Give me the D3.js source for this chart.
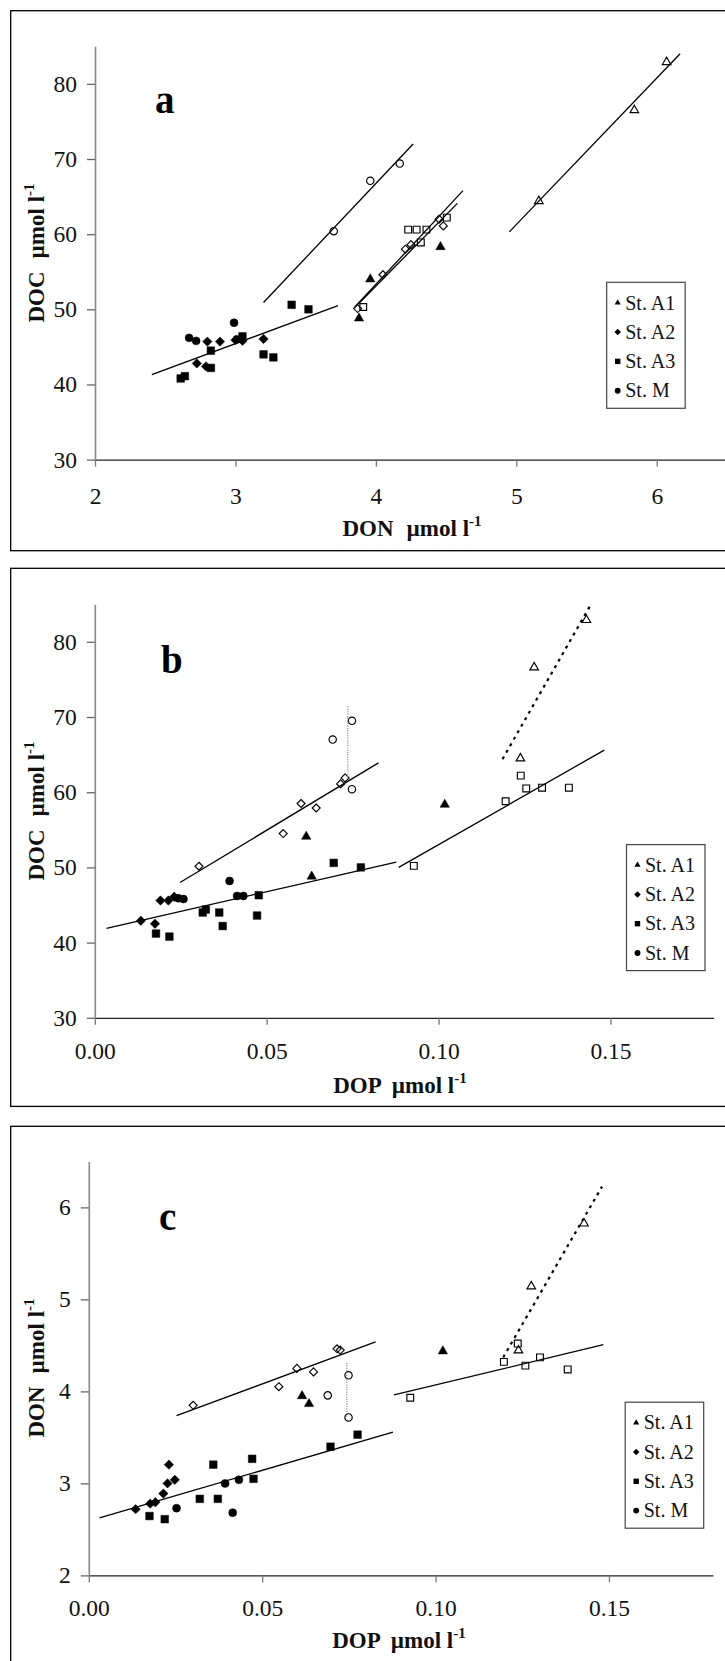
<!DOCTYPE html>
<html>
<head>
<meta charset="utf-8">
<script src="https://cdnjs.cloudflare.com/ajax/libs/d3/7.8.5/d3.min.js"></script>
<style>
  html, body { margin: 0; padding: 0; background: #fff; }
  svg { display: block; }
</style>
</head>
<body>
<svg id="chart" width="725" height="1661"></svg>
<script>
// ---------- legend ----------
const stations = ["St. A1", "St. A2", "St. A3", "St. M"];

// ---------- panel a : DON (x) vs DOC (y) ----------
const aTicksX = [2, 3, 4, 5, 6];
const aTicksY = [30, 40, 50, 60, 70, 80];
const aA1 = [[3.88, 48.8], [3.96, 54.0], [4.46, 58.3]];
const aA2 = [[2.725, 42.8], [2.79, 42.4], [2.80, 45.7], [2.89, 45.7], [3.00, 45.9], [3.05, 45.8], [3.20, 46.05]];
const aA3 = [[2.61, 40.8], [2.64, 41.1], [2.825, 44.5], [2.825, 42.2], [3.05, 46.4], [3.20, 44.0], [3.27, 43.6], [3.40, 50.6], [3.52, 50.0]];
const aM  = [[2.67, 46.2], [2.72, 45.8], [2.99, 48.2], [3.01, 46.0]];
const aA1o = [[5.16, 64.4], [5.84, 76.5], [6.07, 82.9]];
const aA2o = [[3.87, 50.1], [4.05, 54.6], [4.21, 58.0], [4.25, 58.6], [4.45, 62.0], [4.48, 61.1]];
const aA3o = [[3.91, 50.3], [4.23, 60.6], [4.29, 60.6], [4.36, 60.6], [4.32, 58.9], [4.505, 62.2]];
const aMo  = [[3.70, 60.4], [3.96, 67.1], [4.17, 69.4]];
const aFitFilled = [[2.405, 41.3], [3.73, 50.5]];
const aFitMo  = [[3.20, 50.9], [4.265, 72.0]];
const aFitA2o = [[3.85, 50.3], [4.62, 65.8]];
const aFitA3o = [[3.88, 50.8], [4.58, 64.1]];
const aFitA1o = [[4.95, 60.3], [6.166, 84.0]];

// ---------- panel b : DOP (x) vs DOC (y) ----------
const bTicksX = [0.00, 0.05, 0.10, 0.15];
const bTicksY = [30, 40, 50, 60, 70, 80];
const bA1 = [[0.0615, 54.1], [0.0631, 48.8], [0.1018, 58.35]];
const bA2 = [[0.0134, 42.9], [0.0175, 42.5], [0.0191, 45.6], [0.0214, 45.6], [0.0231, 46.1]];
const bA3 = [[0.0178, 41.2], [0.0217, 40.8], [0.0314, 44.0], [0.0323, 44.4], [0.0362, 44.0], [0.0372, 42.2], [0.0472, 43.6], [0.0477, 46.3], [0.0695, 50.6], [0.0774, 50.0]];
const bM  = [[0.0243, 45.9], [0.0258, 45.8], [0.0392, 48.2], [0.0414, 46.2], [0.0432, 46.2]];
const bA1o = [[0.1238, 64.5], [0.1278, 76.6], [0.1430, 82.9]];
const bA2o = [[0.0303, 50.15], [0.0548, 54.5], [0.0600, 58.5], [0.0644, 57.9], [0.0715, 61.1], [0.0728, 61.9]];
const bA3o = [[0.0928, 50.2], [0.1195, 58.8], [0.1239, 62.2], [0.1255, 60.5], [0.1301, 60.6], [0.1379, 60.6]];
const bMo  = [[0.0692, 67.0], [0.0748, 69.5], [0.0748, 60.4]];
const bFitFilled = [[0.0034, 41.9], [0.0877, 50.7]];
const bFitA2o = [[0.0248, 48.0], [0.0825, 63.9]];
const bFitA3o = [[0.0884, 50.0], [0.1482, 65.6]];
const bFitA1o = [[0.1186, 64.4], [0.1441, 84.8]];
const bRangeMo = [[0.0736, 62.0], [0.0736, 71.5]];

// ---------- panel c : DOP (x) vs DON (y) ----------
const cTicksX = [0.00, 0.05, 0.10, 0.15];
const cTicksY = [2, 3, 4, 5, 6];
const cA1 = [[0.0615, 3.95], [0.0635, 3.864], [0.1021, 4.437]];
const cA2 = [[0.0135, 2.72], [0.0177, 2.78], [0.0192, 2.795], [0.0215, 2.889], [0.0227, 3.0], [0.0231, 3.204], [0.0248, 3.039]];
const cA3 = [[0.0175, 2.645], [0.0219, 2.611], [0.0320, 2.832], [0.0359, 3.204], [0.0372, 2.832], [0.0471, 3.267], [0.0475, 3.05], [0.0697, 3.399], [0.0775, 3.53]];
const cM  = [[0.0253, 2.731], [0.0393, 3.0], [0.0433, 3.039], [0.0415, 2.682]];
const cA1o = [[0.1239, 4.445], [0.1276, 5.142], [0.1428, 5.825]];
const cA2o = [[0.0301, 3.849], [0.0548, 4.051], [0.0600, 4.25], [0.0648, 4.212], [0.0716, 4.463], [0.0725, 4.449]];
const cA3o = [[0.0927, 3.931], [0.1197, 4.321], [0.1237, 4.52], [0.1259, 4.28], [0.1301, 4.37], [0.1381, 4.239]];
const cMo  = [[0.0689, 3.957], [0.0749, 4.175], [0.0749, 3.717]];
const cFitFilled = [[0.0031, 2.626], [0.0877, 3.556]];
const cFitA2o = [[0.0253, 3.736], [0.0827, 4.538]];
const cFitA3o = [[0.0880, 3.961], [0.1484, 4.508]];
const cFitA1o = [[0.1195, 4.37], [0.1480, 6.226]];
const cRangeMo = [[0.0744, 3.725], [0.0744, 4.313]];

// ---------- drawing ----------
const FONT = "'Liberation Serif', 'Times New Roman', Times, serif";
const svg = d3.select("#chart");

// square-on-point diamond symbol
const symbolRhomb = {
  draw(ctx, size) {
    const r = Math.sqrt(size / 2);
    ctx.moveTo(0, -r); ctx.lineTo(r, 0); ctx.lineTo(0, r); ctx.lineTo(-r, 0); ctx.closePath();
  }
};
const shapes = {
  tri:  { type: d3.symbolTriangle, filled: 38, open: 32, legend: 16 },
  dia:  { type: symbolRhomb,       filled: 44, open: 32, legend: 21 },
  sq:   { type: d3.symbolSquare,   filled: 58, open: 46, legend: 29 },
  circ: { type: d3.symbolCircle,   filled: 50, open: 43, legend: 27 }
};
const legendShapes = ["tri", "dia", "sq", "circ"];

function pretty(v) { return v.toFixed(2); }

function drawPanel(p) {
  const g = svg.append("g");
  g.append("rect")
    .attr("x", p.frame[0]).attr("y", p.frame[1])
    .attr("width", p.frame[2]).attr("height", p.frame[3])
    .attr("fill", "none").attr("stroke", "#000").attr("stroke-width", 1.3);

  const x = d3.scaleLinear().domain(p.xDomain).range([p.left, p.right]);
  const y = d3.scaleLinear().domain(p.yDomain).range([p.bottom, p.top]);

  // x axis
  const gx = g.append("g").attr("transform", `translate(0,${p.bottom})`)
    .call(d3.axisBottom(x).tickValues(p.xTicks).tickSize(7).tickSizeOuter(0)
      .tickPadding(p.xPad).tickFormat(p.xFmt));
  gx.select(".domain").attr("stroke", "#222").attr("stroke-width", 1.3);
  gx.selectAll(".tick line").attr("stroke", "#777").attr("stroke-width", 1.3);
  gx.selectAll("text").style("font-family", FONT).style("font-size", "23.5px").attr("fill", "#111");

  // y axis
  const gy = g.append("g").attr("transform", `translate(${p.left},0)`)
    .call(d3.axisLeft(y).tickValues(p.yTicks).tickSize(8).tickSizeOuter(0)
      .tickPadding(10).tickFormat(d3.format("d")));
  gy.select(".domain").attr("stroke", "#888").attr("stroke-width", 1.6);
  gy.selectAll(".tick line").attr("stroke", "#666").attr("stroke-width", 1.3);
  gy.selectAll("text").style("font-family", FONT).style("font-size", "23.5px").attr("fill", "#111");

  // axis titles
  const xt = g.append("text")
    .attr("x", p.xTitlePos[0]).attr("y", p.xTitlePos[1])
    .attr("text-anchor", "middle").style("font-family", FONT)
    .attr("font-weight", "bold").style("font-size", "23px").attr("fill", "#111");
  xt.append("tspan").text(p.xName);
  xt.append("tspan").attr("dx", p.xGap).text("µmol l");
  xt.append("tspan").attr("dy", -10).style("font-size", "15px").text("-1");

  const yt = g.append("text")
    .attr("transform", `translate(${p.yTitlePos[0]},${p.yTitlePos[1]}) rotate(-90)`)
    .attr("text-anchor", "middle").style("font-family", FONT)
    .attr("font-weight", "bold").style("font-size", "23px").attr("fill", "#111");
  yt.append("tspan").text(p.yName);
  yt.append("tspan").attr("dx", 13).text("µmol l");
  yt.append("tspan").attr("dy", -10).style("font-size", "15px").text("-1");

  // panel letter
  g.append("text").attr("x", p.letterPos[0]).attr("y", p.letterPos[1])
    .style("font-family", FONT).attr("font-weight", "bold").style("font-size", "39px")
    .attr("fill", "#000").text(p.letter);

  // markers
  p.series.forEach(s => {
    const sh = shapes[s.shape];
    const sym = d3.symbol().type(sh.type).size(s.open ? sh.open : sh.filled);
    g.append("g").selectAll("path").data(s.pts).join("path")
      .attr("transform", d => `translate(${x(d[0])},${y(d[1])})`)
      .attr("d", sym)
      .attr("fill", s.open ? "none" : "#000")
      .attr("stroke", "#000")
      .attr("stroke-width", s.open ? 1.15 : 0.5);
  });

  // regression lines
  p.fits.forEach(f => {
    const ln = g.append("line")
      .attr("x1", x(f.pts[0][0])).attr("y1", y(f.pts[0][1]))
      .attr("x2", x(f.pts[1][0])).attr("y2", y(f.pts[1][1]))
      .attr("fill", "none");
    if (f.kind === "solid") ln.attr("stroke", "#000").attr("stroke-width", 1.3);
    if (f.kind === "dash") ln.attr("stroke", "#000").attr("stroke-width", 2.2).attr("stroke-dasharray", "3,4.5");
    if (f.kind === "dot") ln.attr("stroke", "#888").attr("stroke-width", 1.1).attr("stroke-dasharray", "1.2,1.2");
  });

  // legend
  const lg = g.append("g").attr("transform", `translate(${p.legend[0]},${p.legend[1]})`);
  lg.append("rect").attr("x", 0).attr("y", 0).attr("width", 78.5).attr("height", 126)
    .attr("fill", "#fff").attr("stroke", "#444").attr("stroke-width", 1.2);
  stations.forEach((name, i) => {
    const sh = shapes[legendShapes[i]];
    const cy = 20.5 + i * 29.3;
    lg.append("path").attr("transform", `translate(11,${cy})`)
      .attr("d", d3.symbol().type(sh.type).size(sh.legend)).attr("fill", "#000");
    lg.append("text").attr("x", 18.5).attr("y", cy + 6.8)
      .style("font-family", FONT).style("font-size", "20px").attr("fill", "#111").text(name);
  });
}

function seriesSet(A1, A2, A3, M, A1o, A2o, A3o, Mo) {
  return [
    { pts: A1, shape: "tri", open: false }, { pts: A2, shape: "dia", open: false },
    { pts: A3, shape: "sq", open: false },  { pts: M, shape: "circ", open: false },
    { pts: A1o, shape: "tri", open: true }, { pts: A2o, shape: "dia", open: true },
    { pts: A3o, shape: "sq", open: true },  { pts: Mo, shape: "circ", open: true }
  ];
}

drawPanel({
  letter: "a", frame: [10.7, 10.7, 730, 540],
  xDomain: [2, 6.5], yDomain: [30, 85], left: 95, right: 727, bottom: 459.6, top: 46.3,
  xTicks: aTicksX, yTicks: aTicksY, xFmt: d3.format("d"), xPad: 21, xGap: 13,
  xName: "DON", yName: "DOC", xTitlePos: [412, 536], yTitlePos: [44, 253], letterPos: [155, 112.7],
  legend: [606.7, 282.3],
  series: seriesSet(aA1, aA2, aA3, aM, aA1o, aA2o, aA3o, aMo),
  fits: [
    { pts: aFitFilled, kind: "solid" }, { pts: aFitMo, kind: "solid" },
    { pts: aFitA2o, kind: "solid" }, { pts: aFitA3o, kind: "solid" }, { pts: aFitA1o, kind: "solid" }
  ]
});

drawPanel({
  letter: "b", frame: [10.7, 568.3, 730, 538.1],
  xDomain: [0, 0.18], yDomain: [30, 85], left: 94.8, right: 713.6, bottom: 1017.8, top: 604.2,
  xTicks: bTicksX, yTicks: bTicksY, xFmt: pretty, xPad: 18, xGap: 10,
  xName: "DOP", yName: "DOC", xTitlePos: [400, 1093], yTitlePos: [44, 811], letterPos: [161, 673],
  legend: [626.5, 844.6],
  series: seriesSet(bA1, bA2, bA3, bM, bA1o, bA2o, bA3o, bMo),
  fits: [
    { pts: bFitFilled, kind: "solid" }, { pts: bFitA2o, kind: "solid" },
    { pts: bFitA3o, kind: "solid" }, { pts: bFitA1o, kind: "dash" }, { pts: bRangeMo, kind: "dot" }
  ]
});

drawPanel({
  letter: "c", frame: [10.7, 1126.3, 730, 560],
  xDomain: [0, 0.18], yDomain: [2, 6.5], left: 88.8, right: 713, bottom: 1575.4, top: 1161.4,
  xTicks: cTicksX, yTicks: cTicksY, xFmt: pretty, xPad: 17, xGap: 10,
  xName: "DOP", yName: "DON", xTitlePos: [399, 1648], yTitlePos: [44, 1368], letterPos: [159, 1230],
  legend: [625.2, 1402.2],
  series: seriesSet(cA1, cA2, cA3, cM, cA1o, cA2o, cA3o, cMo),
  fits: [
    { pts: cFitFilled, kind: "solid" }, { pts: cFitA2o, kind: "solid" },
    { pts: cFitA3o, kind: "solid" }, { pts: cFitA1o, kind: "dash" }, { pts: cRangeMo, kind: "dot" }
  ]
});
</script>
</body>
</html>
